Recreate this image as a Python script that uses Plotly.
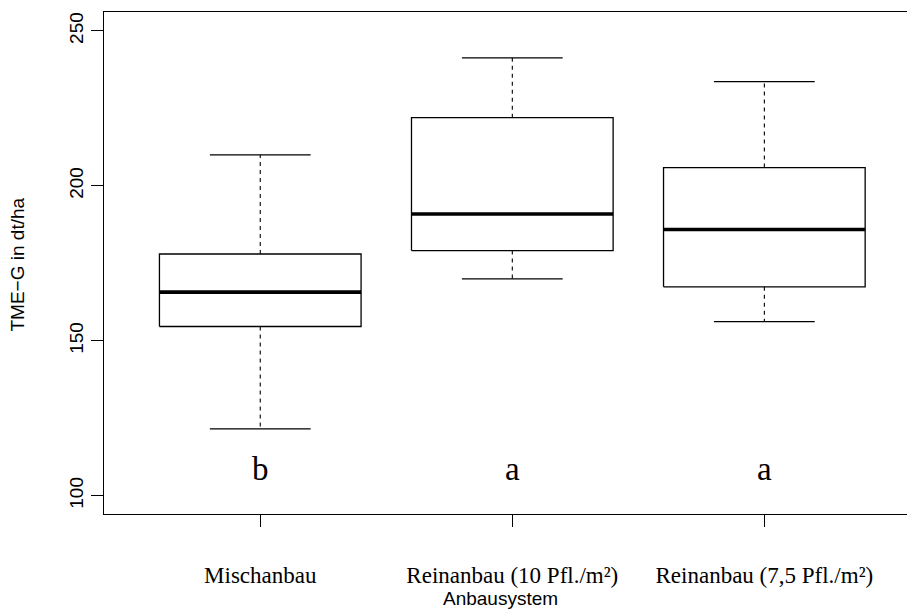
import plotly.graph_objects as go

# ---- data ----
categories = ["Mischanbau", "Reinanbau (10 Pfl./m²)", "Reinanbau (7,5 Pfl./m²)"]
lower_whisker = [121.6, 170.0, 156.2]
q1 = [154.6, 179.1, 167.4]
median = [165.7, 190.9, 185.9]
q3 = [178.0, 222.0, 205.9]
upper_whisker = [210.0, 241.3, 233.6]
letters = ["b", "a", "a"]
y_ticks = [100, 150, 200, 250]

BOX_HALF = 0.4
CAP_HALF = 0.2
SANS = "Liberation Sans, Arial, Helvetica, sans-serif"
SERIF = "Liberation Serif, Times New Roman, serif"

fig = go.Figure()
for i, cat in enumerate(categories):
    xc = i + 1
    # box
    fig.add_trace(go.Scatter(
        x=[xc - BOX_HALF, xc + BOX_HALF, xc + BOX_HALF, xc - BOX_HALF, xc - BOX_HALF],
        y=[q1[i], q1[i], q3[i], q3[i], q1[i]],
        mode="lines", line=dict(color="black", width=1.3),
        hoverinfo="skip", showlegend=False))
    # median
    fig.add_trace(go.Scatter(
        x=[xc - BOX_HALF, xc + BOX_HALF], y=[median[i], median[i]],
        mode="lines", line=dict(color="black", width=3.6),
        hoverinfo="skip", showlegend=False))
    # whiskers (dashed)
    fig.add_trace(go.Scatter(
        x=[xc, xc, None, xc, xc],
        y=[q3[i], upper_whisker[i], None, q1[i], lower_whisker[i]],
        mode="lines", line=dict(color="black", width=1.1, dash="4px,4px"),
        hoverinfo="skip", showlegend=False))
    # caps
    fig.add_trace(go.Scatter(
        x=[xc - CAP_HALF, xc + CAP_HALF, None, xc - CAP_HALF, xc + CAP_HALF],
        y=[upper_whisker[i], upper_whisker[i], None, lower_whisker[i], lower_whisker[i]],
        mode="lines", line=dict(color="black", width=1.3),
        hoverinfo="skip", showlegend=False))

annotations = []
for i, lab in enumerate(letters):
    annotations.append(dict(x=i + 1, y=108.7, xref="x", yref="y", text=lab,
                            showarrow=False, font=dict(family=SERIF, size=33, color="black"),
                            xanchor="center", yanchor="middle"))
# axis titles
annotations.append(dict(x=(18 - 104) / 803, y=0.497, xref="paper", yref="paper",
                        text="TME−G in dt/ha", textangle=-90, showarrow=False,
                        font=dict(family=SANS, size=19, color="black"),
                        xanchor="center", yanchor="middle"))
annotations.append(dict(x=(500 - 104) / 803, y=(514 - 598) / 502, xref="paper", yref="paper",
                        text="Anbausystem", showarrow=False,
                        font=dict(family=SANS, size=19, color="black"),
                        xanchor="center", yanchor="middle"))

fig.update_layout(
    width=907, height=610,
    margin=dict(l=104, r=0, t=12, b=96),
    plot_bgcolor="white", paper_bgcolor="white",
    annotations=annotations,
    xaxis=dict(range=[0.38, 3.566], tickvals=[1, 2, 3], ticktext=categories,
               showgrid=False, zeroline=False, showline=True, mirror=True,
               linecolor="black", linewidth=1.3,
               ticks="outside", ticklen=12, tickwidth=1.1, tickcolor="black",
               ticklabelstandoff=28,
               tickfont=dict(family=SERIF, size=23, color="black")),
    yaxis=dict(range=[94.1, 256.1], tickvals=y_ticks,
               showgrid=False, zeroline=False, showline=True,
               linecolor="black", linewidth=1.3,
               ticks="outside", ticklen=12, tickwidth=1.1, tickcolor="black",
               tickangle=-90,
               tickfont=dict(family=SANS, size=19, color="black")),
)

fig.write_html("out.html")
